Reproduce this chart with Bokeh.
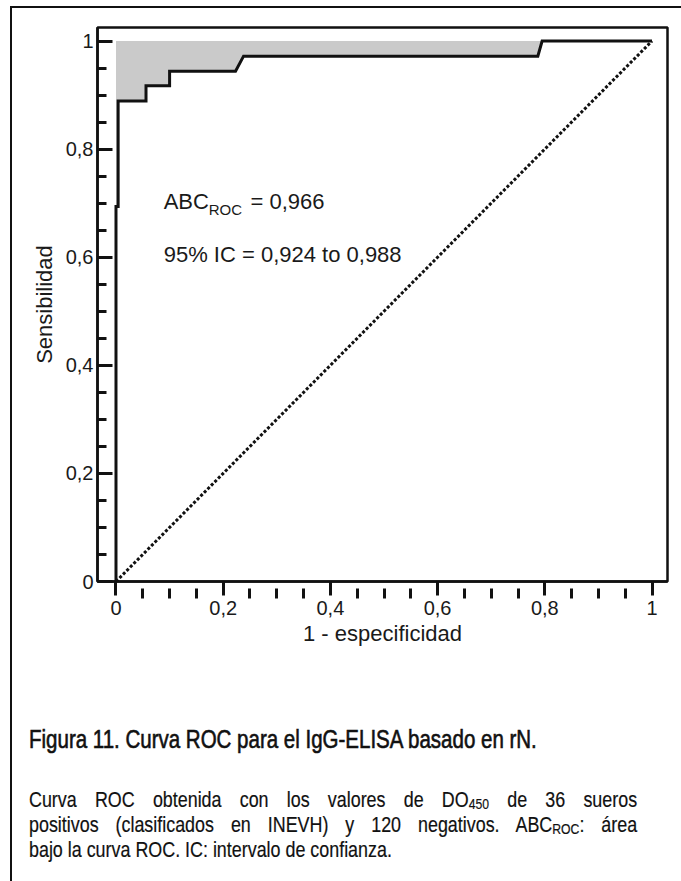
from bokeh.plotting import figure
from bokeh.models import FixedTicker, Label, Div, Range1d
from bokeh.layouts import column
from bokeh.embed import file_html
from bokeh.resources import INLINE

# ROC curve (1 - specificity, sensitivity)
fpr = [0.0, 0.0, 0.004, 0.004, 0.056, 0.056, 0.100, 0.100, 0.223, 0.238, 0.787, 0.795, 1.0]
tpr = [0.0, 0.694, 0.694, 0.889, 0.889, 0.917, 0.917, 0.944, 0.944, 0.972, 0.972, 1.0, 1.0]

diag_x = [0.0, 1.0]
diag_y = [0.0, 1.0]

x_ticks = [0.0, 0.2, 0.4, 0.6, 0.8, 1.0]
x_tick_labels = ["0", "0,2", "0,4", "0,6", "0,8", "1"]
y_ticks = [0.0, 0.2, 0.4, 0.6, 0.8, 1.0]
y_tick_labels = ["0", "0,2", "0,4", "0,6", "0,8", "1"]
minor_ticks = [0.05, 0.1, 0.15, 0.25, 0.3, 0.35, 0.45, 0.5, 0.55,
               0.65, 0.7, 0.75, 0.85, 0.9, 0.95]

x_title = "1 - especificidad"
y_title = "Sensibilidad"
auc_main = "ABC"
auc_sub = "ROC"
auc_value = "= 0,966"
ci_text = "95% IC = 0,924 to 0,988"

caption_title = "Figura 11. Curva ROC para el IgG-ELISA basado en rN."
SUB = '<span style="font-size:15px;vertical-align:-2px;line-height:0;">{}</span>'
caption_lines = [
    "Curva ROC obtenida con los valores de DO" + SUB.format("450") + " de 36 sueros",
    "positivos (clasificados en INEVH) y 120 negativos. ABC" + SUB.format("ROC") + ": área",
    "bajo la curva ROC. IC: intervalo de confianza.",
]

FONT = "Liberation Sans"
TXT = "#1a1a1a"

p = figure(width=669, height=655, output_backend="svg", toolbar_location=None,
           x_range=Range1d(-0.0345, 1.0289), y_range=Range1d(0.0, 1.025),
           min_border_left=85, min_border_right=14, min_border_top=19, min_border_bottom=82,
           title=None)
p.background_fill_color = "white"
p.border_fill_color = "white"
p.outline_line_color = "#111111"
p.outline_line_width = 2.5
p.xgrid.visible = False
p.ygrid.visible = False

# shaded area between the curve and sensitivity = 1
k = tpr.index(1.0)
fill_x = fpr[1:k + 1] + [0.0]
fill_y = tpr[1:k + 1] + [1.0]
p.patch(fill_x, fill_y, fill_color="#cacaca", line_color=None)

p.line(diag_x, diag_y, line_color="#111111", line_width=3, line_dash="3 2")
p.line(fpr, tpr, line_color="#111111", line_width=3, line_join="miter")

# axes
for ax in (p.xaxis[0], p.yaxis[0]):
    ax.axis_line_width = 2.5
    ax.axis_line_color = "#111111"
    ax.major_tick_line_width = 3
    ax.minor_tick_line_width = 3
    ax.major_tick_line_color = "#111111"
    ax.minor_tick_line_color = "#111111"
    ax.major_label_text_font = FONT
    ax.major_label_text_font_size = "20px"
    ax.major_label_text_color = TXT
    ax.axis_label_text_font = FONT
    ax.axis_label_text_font_size = "22px"
    ax.axis_label_text_font_style = "normal"
    ax.axis_label_text_color = TXT

xa = p.xaxis[0]
xa.ticker = FixedTicker(ticks=x_ticks, minor_ticks=minor_ticks)
xa.major_label_overrides = {t: s for t, s in zip(x_ticks, x_tick_labels)}
xa.major_tick_in = 0
xa.major_tick_out = 14
xa.minor_tick_in = -7
xa.minor_tick_out = 17
xa.major_label_standoff = 2
xa.axis_label_standoff = 3
xa.axis_label = x_title

ya = p.yaxis[0]
ya.ticker = FixedTicker(ticks=y_ticks, minor_ticks=minor_ticks)
ya.major_label_overrides = {t: s for t, s in zip(y_ticks, y_tick_labels)}
ya.major_tick_in = 15
ya.major_tick_out = 0
ya.minor_tick_in = 9
ya.minor_tick_out = 0
ya.major_label_standoff = 4
ya.axis_label_standoff = 6
ya.axis_label = y_title

# in-plot annotations
p.add_layout(Label(x=0.089, y=0.703, text=auc_main, text_font=FONT, text_font_size="22px",
                   text_color=TXT, text_baseline="alphabetic"))
p.add_layout(Label(x=0.173, y=0.688, text=auc_sub, text_font=FONT, text_font_size="15px",
                   text_color=TXT, text_baseline="alphabetic"))
p.add_layout(Label(x=0.251, y=0.703, text=auc_value, text_font=FONT, text_font_size="22px",
                   text_color=TXT, text_baseline="alphabetic"))
p.add_layout(Label(x=0.089, y=0.605, text=ci_text, text_font=FONT, text_font_size="22px",
                   text_color=TXT, text_baseline="alphabetic"))

PS = 0.813  # horizontal condensing to mimic a narrow typeface
TS = 0.82
body = "".join(
    f'<div style="text-align:justify;text-align-last:{"justify" if i < 2 else "left"};white-space:nowrap;">{ln}</div>'
    for i, ln in enumerate(caption_lines)
)
html = f"""
<div style="font-family:'Liberation Sans',sans-serif;color:#111;margin-left:12px;">
  <div style="font-size:25px;line-height:28px;margin-top:57px;white-space:nowrap;-webkit-text-stroke:0.6px #111;
              transform:scaleX({TS});transform-origin:0 0;width:{608 / TS:.0f}px;">{caption_title}</div>
  <div style="font-size:22px;line-height:25px;margin-top:34px;-webkit-text-stroke:0.2px #111;
              transform:scaleX({PS});transform-origin:0 0;width:{608 / PS:.0f}px;">{body}</div>
</div>
"""
div = Div(text=html, width=669, height=218)

layout = column(p, div, styles={"border-left": "2px solid #111", "border-top": "2px solid #111",
                                "margin-left": "10px", "margin-top": "6px"})

open("out.html", "w").write(file_html(layout, INLINE))
